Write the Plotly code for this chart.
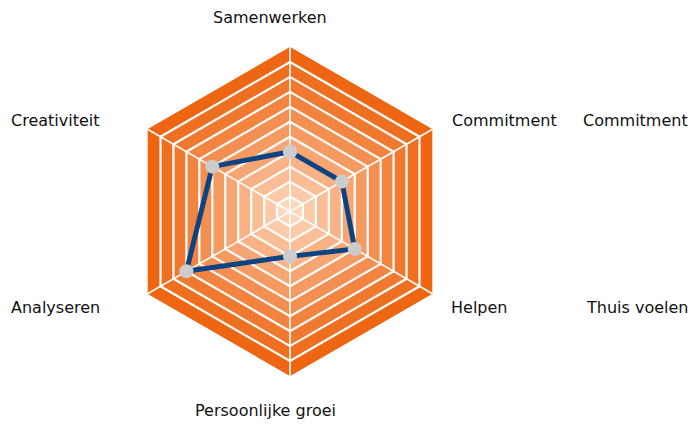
import plotly.graph_objects as go

# Data
categories = ["Samenwerken", "Commitment", "Helpen", "Persoonlijke groei", "Analyseren", "Creativiteit"]
scores = [4, 4, 5, 3, 8, 6]
band_levels = [11, 10, 9, 8, 7, 6, 5, 4, 3, 2, 1]
axis_max = 11

# Label texts (as shown in the picture, including two extra ones on the right)
label_texts = ["Samenwerken", "Commitment", "Commitment", "Helpen", "Thuis voelen",
               "Persoonlijke groei", "Analyseren", "Creativiteit"]
label_pos = [(270, 17), (504, 120), (635, 120), (479, 307), (637, 307),
             (265, 410), (55, 307), (55, 120)]

W, H = 691, 428
outer_c = (238, 102, 18)
inner_c = (253, 214, 188)

fig = go.Figure()
closed_theta = categories + [categories[0]]
n = len(band_levels)
for i, lvl in enumerate(band_levels):
    t = (i / (n - 1)) ** 1.1
    col = tuple(round(outer_c[k] + (inner_c[k] - outer_c[k]) * t) for k in range(3))
    fig.add_trace(go.Scatterpolar(
        r=[lvl] * (len(categories) + 1), theta=closed_theta,
        mode="lines", fill="toself",
        fillcolor="rgb(%d,%d,%d)" % col,
        line=dict(color="white" if lvl < axis_max else "rgb(%d,%d,%d)" % col, width=2.2),
        hoverinfo="skip", showlegend=False))

# spokes
for c in categories:
    fig.add_trace(go.Scatterpolar(r=[0, axis_max], theta=[c, c], mode="lines",
                                  line=dict(color="white", width=1.6),
                                  hoverinfo="skip", showlegend=False))

fig.add_trace(go.Scatterpolar(
    r=scores + [scores[0]], theta=closed_theta, mode="lines+markers",
    line=dict(color="#0b4383", width=5),
    marker=dict(color="#cccccc", size=14, line=dict(width=0)),
    showlegend=False))

cx, cy, R = 290, 211.5, 164.5
fig.update_layout(
    width=W, height=H,
    margin=dict(l=0, r=0, t=0, b=0),
    paper_bgcolor="white", plot_bgcolor="white",
    polar=dict(
        domain=dict(x=[(cx - R) / W, (cx + R) / W], y=[1 - (cy + R) / H, 1 - (cy - R) / H]),
        gridshape="linear",
        bgcolor="rgba(0,0,0,0)",
        radialaxis=dict(range=[0, axis_max], visible=False, showgrid=False),
        angularaxis=dict(direction="clockwise", rotation=90, showticklabels=False,
                         showgrid=False, showline=False, ticks=""),
    ),
    annotations=[dict(text=t, x=p[0] / W, y=1 - p[1] / H, xref="paper", yref="paper",
                      xanchor="center", yanchor="middle", showarrow=False,
                      font=dict(family="DejaVu Sans, Verdana, sans-serif", size=16, color="#111111"))
                 for t, p in zip(label_texts, label_pos)],
)

fig.write_html("out.html", config={"displayModeBar": False},
               post_script="document.body.style.margin='0';document.body.style.overflow='hidden';")
